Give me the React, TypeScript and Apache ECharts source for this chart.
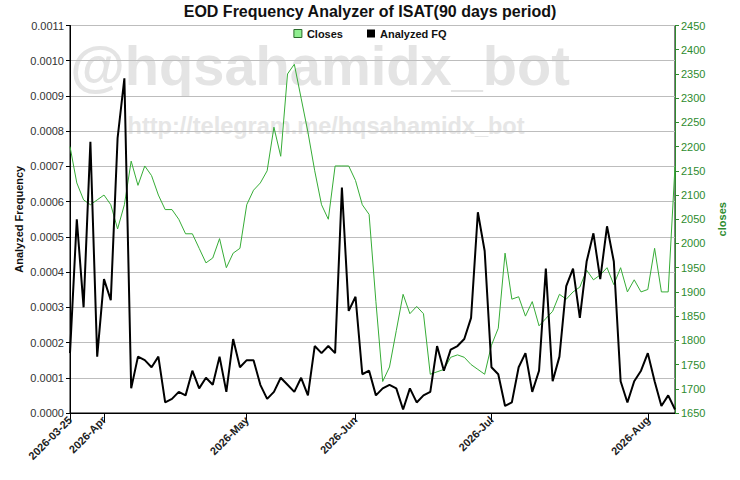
import { useEffect, useRef } from 'react';
import * as echarts from 'echarts';

const FONT = '"Liberation Sans", Arial, sans-serif';

// trading days (category axis)
const DATES = [
  '2026-03-25', '2026-03-26', '2026-03-27', '2026-03-30', '2026-03-31',
  '2026-04-01', '2026-04-02', '2026-04-06', '2026-04-07', '2026-04-08', '2026-04-09', '2026-04-10',
  '2026-04-13', '2026-04-14', '2026-04-15', '2026-04-16', '2026-04-17',
  '2026-04-20', '2026-04-21', '2026-04-22', '2026-04-23', '2026-04-24',
  '2026-04-27', '2026-04-28', '2026-04-29', '2026-04-30',
  '2026-05-04', '2026-05-05', '2026-05-06', '2026-05-07', '2026-05-08',
  '2026-05-11', '2026-05-12', '2026-05-13',
  '2026-05-18', '2026-05-19', '2026-05-20', '2026-05-21', '2026-05-22',
  '2026-05-25', '2026-05-28', '2026-05-29',
  '2026-06-02', '2026-06-03', '2026-06-04', '2026-06-05',
  '2026-06-08', '2026-06-09', '2026-06-10', '2026-06-11', '2026-06-12',
  '2026-06-15', '2026-06-17', '2026-06-18', '2026-06-19',
  '2026-06-22', '2026-06-23', '2026-06-24', '2026-06-25', '2026-06-26',
  '2026-06-29', '2026-06-30',
  '2026-07-01', '2026-07-02', '2026-07-03',
  '2026-07-06', '2026-07-07', '2026-07-08', '2026-07-09', '2026-07-10',
  '2026-07-13', '2026-07-14', '2026-07-15', '2026-07-16', '2026-07-17',
  '2026-07-20', '2026-07-21', '2026-07-22', '2026-07-23', '2026-07-24',
  '2026-07-27', '2026-07-28', '2026-07-29', '2026-07-30', '2026-07-31',
  '2026-08-03', '2026-08-04', '2026-08-05', '2026-08-06', '2026-08-07',
];

const CLOSES = [
  2200, 2125, 2090, 2080, 2090,
  2100, 2080, 2030, 2080, 2170, 2120, 2160, 2140, 2100, 2070, 2070, 2050,
  2020, 2020, 1990, 1960, 1970, 2010, 1950, 1980, 1990,
  2080, 2110, 2125, 2150, 2240, 2180, 2350, 2370, 2300, 2230, 2150, 2080,
  2050, 2160, 2160, 2160,
  2130, 2080, 2060, 1880, 1715, 1745, 1820, 1895, 1855, 1870, 1855, 1730,
  1735, 1740, 1765, 1770, 1765, 1750, 1740, 1730,
  1790, 1825, 1980, 1885, 1890, 1850, 1880, 1830, 1845, 1860, 1895, 1885,
  1900, 1910, 1945, 1925, 1935, 1950, 1915, 1950, 1900, 1925, 1900,
  1905, 1990, 1900, 1900, 2160,
];

const ANALYZED_FQ = [
  0.00017, 0.00055, 0.0003, 0.00077, 0.00016,
  0.00038, 0.00032, 0.00078, 0.00095, 0.00007, 0.00016, 0.00015, 0.00013, 0.00016, 0.00003, 0.00004, 0.00006,
  0.00005, 0.00012, 0.00007, 0.0001, 0.00008, 0.00016, 0.00006, 0.00021, 0.00013,
  0.00015, 0.00015, 0.00008, 0.00004, 0.00006, 0.0001, 0.00008, 0.00006, 0.0001, 0.00005, 0.00019, 0.00017,
  0.00019, 0.00017, 0.00064, 0.00029,
  0.00033, 0.00011, 0.00012, 0.00005, 0.00007, 0.00008, 0.00007, 0.00001, 0.00007, 0.00003, 0.00005, 0.00006,
  0.00019, 0.00012, 0.00018, 0.00019, 0.00021, 0.00027, 0.00057, 0.00046,
  0.00013, 0.00011, 0.00002, 0.00003, 0.00013, 0.00017, 0.00006, 0.00012, 0.00041, 0.00009, 0.00016, 0.00036,
  0.00041, 0.00027, 0.00043, 0.00051, 0.00038, 0.00053, 0.00043, 0.00009, 0.00003, 0.00009, 0.00012,
  0.00017, 0.00009, 0.00002, 0.00005, 0.00001,
];

const TICK_DATES = ['2026-03-25', '2026-04-01', '2026-05-04', '2026-06-02', '2026-07-01', '2026-08-03'];
const TICK_LABELS = ['2026-03-25', '2026-Apr', '2026-May', '2026-Jun', '2026-Jul', '2026-Aug'];

const GREEN = '#2e8b2e';

export default function App() {
  const ref = useRef<HTMLDivElement>(null);

  useEffect(() => {
    document.body.style.margin = '0';
    if (!ref.current) return;
    const chart = echarts.init(ref.current, null, { renderer: 'svg' });
    const isTick = (i: number) => TICK_DATES.includes(DATES[i]);

    chart.setOption({
      animation: false,
      backgroundColor: '#fff',
      title: {
        text: 'EOD Frequency Analyzer of ISAT(90 days period)',
        left: 'center', top: 3, padding: 0,
        textStyle: { fontFamily: FONT, fontSize: 16, fontWeight: 'bold', color: '#111' },
      },
      legend: {
        top: 28, left: 'center', padding: 0, itemGap: 24, itemWidth: 8, itemHeight: 8,
        icon: 'rect',
        textStyle: { fontFamily: FONT, fontSize: 11, fontWeight: 'bold', color: '#111' },
        data: [
          { name: 'Closes', itemStyle: { color: '#90ee90', borderColor: '#2a6a2a', borderWidth: 1 } },
          { name: 'Analyzed FQ', itemStyle: { color: '#000' } },
        ],
      },
      // watermarks
      graphic: [
        {
          type: 'text', x: 320, y: 65, z: -10, silent: true,
          style: {
            text: '@hqsahamidx_bot', fill: '#e4e4e4', font: `bold 56px ${FONT}`,
            textAlign: 'center', textVerticalAlign: 'middle', align: 'center', verticalAlign: 'middle',
          },
        },
        {
          type: 'text', x: 326, y: 126, z: -10, silent: true,
          style: {
            text: 'http://telegram.me/hqsahamidx_bot', fill: '#e6e6e6', font: `bold 23.5px ${FONT}`,
            textAlign: 'center', textVerticalAlign: 'middle', align: 'center', verticalAlign: 'middle',
          },
        },
      ],
      grid: {
        left: 70, right: 65, top: 25.5, bottom: 67, show: true,
        borderColor: '#000', borderWidth: 1, backgroundColor: 'transparent',
        outerBoundsMode: 'none',
      },
      xAxis: {
        type: 'category', data: DATES, boundaryGap: false,
        axisLine: { lineStyle: { color: '#000', width: 1 } },
        axisTick: { interval: (i: number) => isTick(i), length: 9, lineStyle: { color: '#000' } },
        axisLabel: {
          interval: (i: number) => isTick(i), rotate: 45, margin: 5,
          fontFamily: FONT, fontSize: 11, fontWeight: 'bold', color: '#222',
          formatter: (v: string) => TICK_LABELS[TICK_DATES.indexOf(v)] ?? '',
        },
        splitLine: { show: false },
      },
      yAxis: [
        {
          type: 'value', min: 0, max: 0.0011, interval: 0.0001,
          name: 'Analyzed Frequency', nameLocation: 'middle', nameRotate: 90, nameGap: 46,
          nameMoveOverlap: false,
          nameTextStyle: { fontFamily: FONT, fontSize: 11, fontWeight: 'bold', color: '#111' },
          axisLine: { show: true, lineStyle: { color: '#000' } },
          axisTick: { show: true, length: 4, lineStyle: { color: '#000' } },
          axisLabel: { fontFamily: FONT, fontSize: 11, color: '#333', margin: 6, formatter: (v: number) => v.toFixed(4) },
          splitLine: { show: true, lineStyle: { color: '#bdbdbd', width: 1 } },
        },
        {
          type: 'value', min: 1650, max: 2450, interval: 50, position: 'right',
          name: 'closes', nameLocation: 'middle', nameRotate: 90, nameGap: 36,
          nameTextStyle: { fontFamily: FONT, fontSize: 11, fontWeight: 'bold', color: GREEN },
          axisLine: { show: true, lineStyle: { color: GREEN } },
          axisTick: { show: true, length: 4, lineStyle: { color: GREEN } },
          axisLabel: { fontFamily: FONT, fontSize: 11, color: GREEN, margin: 6, formatter: (v: number) => String(v) },
          splitLine: { show: false },
        },
      ],
      series: [
        {
          name: 'Closes', type: 'line', yAxisIndex: 1, data: CLOSES,
          showSymbol: false, symbol: 'none', lineStyle: { color: '#36ac36', width: 1 },
          itemStyle: { color: '#90ee90' }, z: 2,
        },
        {
          name: 'Analyzed FQ', type: 'line', yAxisIndex: 0, data: ANALYZED_FQ,
          showSymbol: false, symbol: 'none', lineStyle: { color: '#000', width: 2 },
          itemStyle: { color: '#000' }, z: 3,
        },
      ],
    });
    return () => chart.dispose();
  }, []);

  return <div ref={ref} style={{ width: 740, height: 480 }} />;
}
